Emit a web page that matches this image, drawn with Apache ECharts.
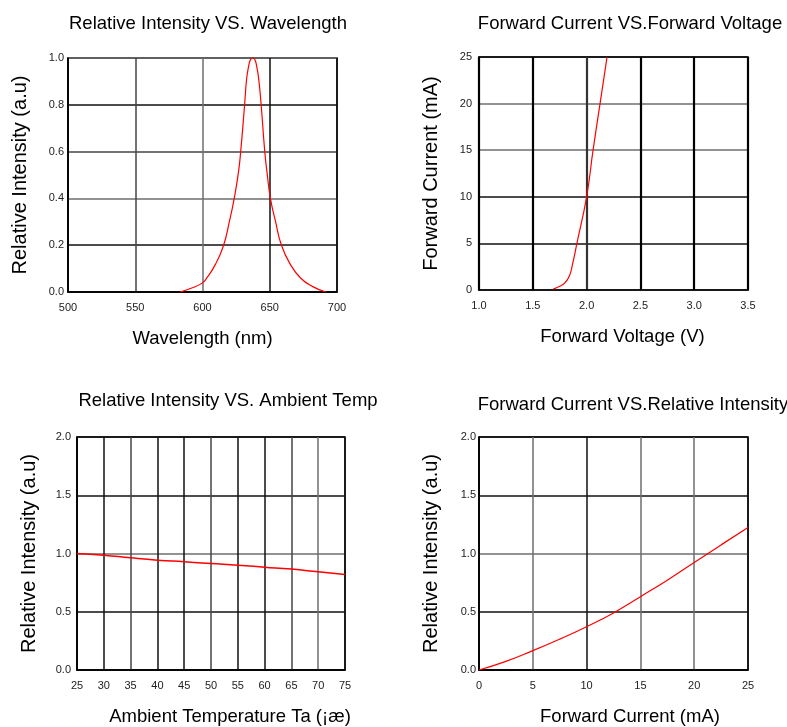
<!DOCTYPE html>
<html>
<head>
<meta charset="utf-8">
<script src="https://cdn.jsdelivr.net/npm/echarts@6/dist/echarts.min.js"></script>
<style>
html,body{margin:0;padding:0;background:#fff;}
#c{width:787px;height:727px;}
</style>
</head>
<body>
<div id="c"></div>
<script>
// Chart 1: Relative Intensity vs Wavelength
const wavelengthNm = [583.3, 592, 600, 603.2, 609.5, 615.7, 620.1, 623.6, 626.7, 628.4, 631.3, 632.8, 634.3, 635.8, 637.3, 638.8, 640.3, 641.8, 643.6, 646.3, 648, 650.5, 654.2, 658.7, 665.4, 672.9, 681.6, 691.7];
const wavelengthIntensity = [0, 0.017, 0.039, 0.06, 0.117, 0.2, 0.304, 0.4, 0.51, 0.6, 0.8, 0.91, 0.964, 0.995, 1.0, 0.995, 0.964, 0.91, 0.8, 0.6, 0.51, 0.4, 0.304, 0.2, 0.117, 0.06, 0.024, 0];
// Chart 2: Forward Current vs Forward Voltage
const fvVoltage = [1.69, 1.75, 1.8, 1.84, 1.87, 1.91, 2.0, 2.06, 2.125, 2.19];
const fvCurrent = [0.1, 0.4, 0.8, 1.5, 2.8, 5, 10, 15, 20, 25];
// Chart 3: Relative Intensity vs Ambient Temperature
const tempC = [25, 30, 35, 40, 45, 50, 55, 60, 65, 70, 75];
const tempIntensity = [1.0, 0.986, 0.963, 0.943, 0.929, 0.914, 0.9, 0.883, 0.866, 0.843, 0.82];
// Chart 4: Relative Intensity vs Forward Current
const fcCurrent = [0, 2.5, 5, 7.5, 10, 12.5, 15, 17.5, 20, 22.5, 25];
const fcIntensity = [0, 0.074, 0.166, 0.265, 0.371, 0.49, 0.629, 0.771, 0.923, 1.074, 1.223];

const titles = ['Relative Intensity VS. Wavelength', 'Forward Current VS.Forward Voltage', 'Relative Intensity VS. Ambient Temp', 'Forward Current VS.Relative Intensity'];
const xNames = ['Wavelength (nm)', 'Forward Voltage (V)', 'Ambient Temperature Ta (¡æ)', 'Forward Current (mA)'];
const yNames = ['Relative Intensity (a.u)', 'Forward Current (mA)', 'Relative Intensity (a.u)', 'Relative Intensity (a.u)'];

function zip(a, b) { return a.map((v, i) => [v, b[i]]); }

const FONT = 'Liberation Sans, Arial, sans-serif';
const K = '#111', G = '#6e6e6e', D = '#444';
const axisLine = { show: true, lineStyle: { color: '#000', width: 1.5 } };

function xAxis(idx, min, max, interval, dec, namePad, colors, width) {
  return {
    gridIndex: idx, type: 'value', min: min, max: max, interval: interval,
    axisLine: axisLine, axisTick: { show: false },
    splitLine: { show: true, lineStyle: { color: colors, width: width } },
    axisLabel: { margin: 10, fontSize: 11, color: '#222', fontFamily: FONT,
      formatter: v => v.toFixed(dec) },
    name: xNames[idx], nameLocation: 'middle', nameGap: 37,
    nameTextStyle: { fontSize: 18.5, color: '#000', fontFamily: FONT, padding: namePad }
  };
}
function yAxis(idx, min, max, interval, dec, margin, colors) {
  return {
    gridIndex: idx, type: 'value', min: min, max: max, interval: interval,
    axisLine: axisLine, axisTick: { show: false },
    splitLine: { show: true, lineStyle: { color: colors, width: 1.5 } },
    axisLabel: { margin: margin, fontSize: 11, color: '#222', fontFamily: FONT,
      formatter: v => v.toFixed(dec) },
    name: yNames[idx], nameLocation: 'middle', nameGap: 38,
    nameTextStyle: { fontSize: 20, color: '#000', fontFamily: FONT }
  };
}

const chart = echarts.init(document.getElementById('c'), null, { renderer: 'canvas' });
chart.setOption({
  animation: false,
  backgroundColor: '#fff',
  title: [
    { text: titles[0], left: 203, top: 9, textAlign: 'center' },
    { text: titles[1], left: 625, top: 9, textAlign: 'center' },
    { text: titles[2], left: 223, top: 386, textAlign: 'center' },
    { text: titles[3], left: 628, top: 390, textAlign: 'center' }
  ].map(t => Object.assign(t, { textStyle: { fontSize: 18.5, fontWeight: 'normal', color: '#000', fontFamily: FONT } })),
  grid: [
    { left: 68, top: 58, width: 269, height: 234, show: true, borderColor: '#000', borderWidth: 1.5 },
    { left: 479, top: 57, width: 269, height: 233, show: true, borderColor: '#000', borderWidth: 1.5 },
    { left: 77, top: 437, width: 268, height: 233, show: true, borderColor: '#000', borderWidth: 1.5 },
    { left: 479, top: 437, width: 269, height: 233, show: true, borderColor: '#000', borderWidth: 1.5 }
  ],
  xAxis: [
    xAxis(0, 500, 700, 50, 0, [0, 0, 0, 0], [K, D, G, K, K], 1.5),
    xAxis(1, 1.0, 3.5, 0.5, 1, [0, 0, 0, 18], ['#000', '#000', '#333', '#000', '#000', '#000'], 2.2),
    xAxis(2, 25, 75, 5, 0, [0, 0, 0, 38], [K, K, D, K, K, D, K, K, D, G, K], 1.5),
    xAxis(3, 0, 25, 5, 0, [0, 0, 0, 33], [K, G, K, G, G, K], 1.5)
  ],
  yAxis: [
    yAxis(0, 0, 1, 0.2, 1, 4, [K, K, G, D, K, G]),
    yAxis(1, 0, 25, 5, 0, 7, [G, K, K, G, G, K]),
    yAxis(2, 0, 2, 0.5, 1, 6, [K, K, G, K, K]),
    yAxis(3, 0, 2, 0.5, 1, 3, [K, K, G, K, K])
  ],
  series: [
    { type: 'line', xAxisIndex: 0, yAxisIndex: 0, data: zip(wavelengthNm, wavelengthIntensity), smooth: true, showSymbol: false, lineStyle: { color: '#ff0000', width: 1.2 } },
    { type: 'line', xAxisIndex: 1, yAxisIndex: 1, data: zip(fvVoltage, fvCurrent), smooth: true, showSymbol: false, lineStyle: { color: '#ff0000', width: 1.2 } },
    { type: 'line', xAxisIndex: 2, yAxisIndex: 2, data: zip(tempC, tempIntensity), smooth: true, showSymbol: false, lineStyle: { color: '#ff0000', width: 1.5 } },
    { type: 'line', xAxisIndex: 3, yAxisIndex: 3, data: zip(fcCurrent, fcIntensity), smooth: true, showSymbol: false, lineStyle: { color: '#ff0000', width: 1.2 } }
  ]
});
</script>
</body>
</html>
